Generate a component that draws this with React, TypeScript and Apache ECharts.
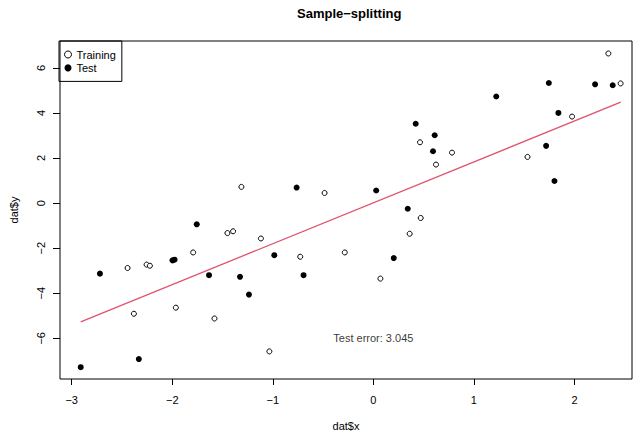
import React, { useEffect, useRef } from "react";
import * as echarts from "echarts";

const trainX = [-1.312, -0.485, 0.464, 0.623, 0.782, 2.337, 2.459, 1.976, 1.533, -1.451, -1.395, -2.444, -2.255, -2.222, -1.792, -2.381, -1.964, -1.58, -1.118, -0.727, -0.284, -1.034, 0.471, 0.361, 0.07];
const trainY = [0.72, 0.45, 2.7, 1.71, 2.24, 6.64, 5.31, 3.84, 2.05, -1.33, -1.25, -2.88, -2.73, -2.78, -2.19, -4.91, -4.64, -5.12, -1.57, -2.38, -2.19, -6.58, -0.66, -1.36, -3.35];
const testX = [-0.763, 0.028, 0.421, 0.61, 0.593, 1.745, 2.205, 2.38, 1.222, 1.84, 1.718, 1.801, -1.756, -2.719, -1.997, -1.977, -1.634, -1.326, -1.237, -2.332, -2.91, -0.985, -0.694, 0.342, 0.203];
const testY = [0.69, 0.56, 3.52, 3.01, 2.3, 5.33, 5.27, 5.23, 4.73, 4.0, 2.54, 0.98, -0.94, -3.13, -2.54, -2.51, -3.2, -3.27, -4.06, -6.92, -7.28, -2.31, -3.2, -0.25, -2.44];
const fitX = [-2.91, 2.46];
const fitY = [-5.27, 4.48];
const xTicks = [-3, -2, -1, 0, 1, 2];
const yTicks = [-6, -4, -2, 0, 2, 4, 6];
const annotation = { x: 0, y: -6, text: "Test error: 3.045" };

const FONT = "'Liberation Sans', Arial, Helvetica, sans-serif";
const fmt = (v: number) => String(v).replace("-", "\u2212");

export default function App() {
  const ref = useRef<HTMLDivElement>(null);
  useEffect(() => {
    document.body.style.margin = "0";
    const chart = echarts.init(ref.current!, null, { renderer: "svg" });
    chart.setOption({
      animation: false,
      backgroundColor: "#fff",
      textStyle: { fontFamily: FONT },
      title: {
        text: "Sample\u2212splitting",
        left: 297,
        top: 7,
        padding: 0,
        textStyle: { fontFamily: FONT, fontSize: 13, fontWeight: "bold", color: "#000" },
      },
      legend: {
        left: 59,
        top: 41,
        orient: "vertical",
        padding: [7, 6, 7, 5],
        borderColor: "#000",
        borderWidth: 1,
        borderRadius: 0,
        itemWidth: 7,
        itemHeight: 7,
        itemGap: 0.4,
        textStyle: { fontFamily: FONT, fontSize: 11, color: "#000", lineHeight: 13 },
        data: [
          { name: "Training", icon: "circle", itemStyle: { color: "#fff", borderColor: "#000", borderWidth: 1, opacity: 1 } },
          { name: "Test", icon: "circle", itemStyle: { color: "#000", opacity: 1 } },
        ],
      },
      grid: {
        left: 59,
        right: 7,
        top: 41,
        bottom: 52,
        show: true,
        borderColor: "#000",
        borderWidth: 1,
        containLabel: false,
      },
      xAxis: {
        type: "value",
        min: -3.116,
        max: 2.572,
        name: "dat$x",
        nameLocation: "middle",
        nameGap: 41,
        nameTextStyle: { fontFamily: FONT, fontSize: 11, color: "#000" },
        splitLine: { show: false },
        axisLine: { show: false, onZero: false },
        axisTick: { show: true, inside: false, length: 6, customValues: xTicks, lineStyle: { color: "#000" } },
        axisLabel: { customValues: xTicks, formatter: fmt, margin: 15, fontFamily: FONT, fontSize: 11, color: "#000" },
      },
      yAxis: {
        type: "value",
        min: -7.805,
        max: 7.193,
        name: "dat$y",
        nameLocation: "middle",
        nameRotate: 90,
        nameGap: 41,
        nameTextStyle: { fontFamily: FONT, fontSize: 11, color: "#000" },
        splitLine: { show: false },
        axisLine: { show: false, onZero: false },
        axisTick: { show: true, inside: false, length: 7, customValues: yTicks, lineStyle: { color: "#000" } },
        axisLabel: { customValues: yTicks, formatter: fmt, rotate: 90, margin: 14, fontFamily: FONT, fontSize: 11, color: "#000" },
      },
      series: [
        {
          name: "Training",
          type: "scatter",
          symbol: "circle",
          symbolSize: 5,
          itemStyle: { color: "#fff", borderColor: "#000", borderWidth: 1, opacity: 1 },
          data: trainX.map((x, i) => [x, trainY[i]]),
        },
        {
          name: "Test",
          type: "scatter",
          symbol: "circle",
          symbolSize: 6,
          itemStyle: { color: "#000", opacity: 1 },
          data: testX.map((x, i) => [x, testY[i]]),
        },
        {
          name: "fit",
          type: "line",
          showSymbol: false,
          symbol: "none",
          lineStyle: { color: "#DF536B", width: 1.3 },
          data: fitX.map((x, i) => [x, fitY[i]]),
        },
        {
          name: "annotation",
          type: "scatter",
          symbolSize: 0,
          silent: true,
          label: {
            show: true,
            position: "inside",
            formatter: annotation.text,
            fontFamily: FONT,
            fontSize: 11,
            color: "#000",
          },
          data: [[annotation.x, annotation.y]],
        },
      ],
    });
    return () => chart.dispose();
  }, []);
  return <div ref={ref} style={{ width: 639, height: 436 }} />;
}
